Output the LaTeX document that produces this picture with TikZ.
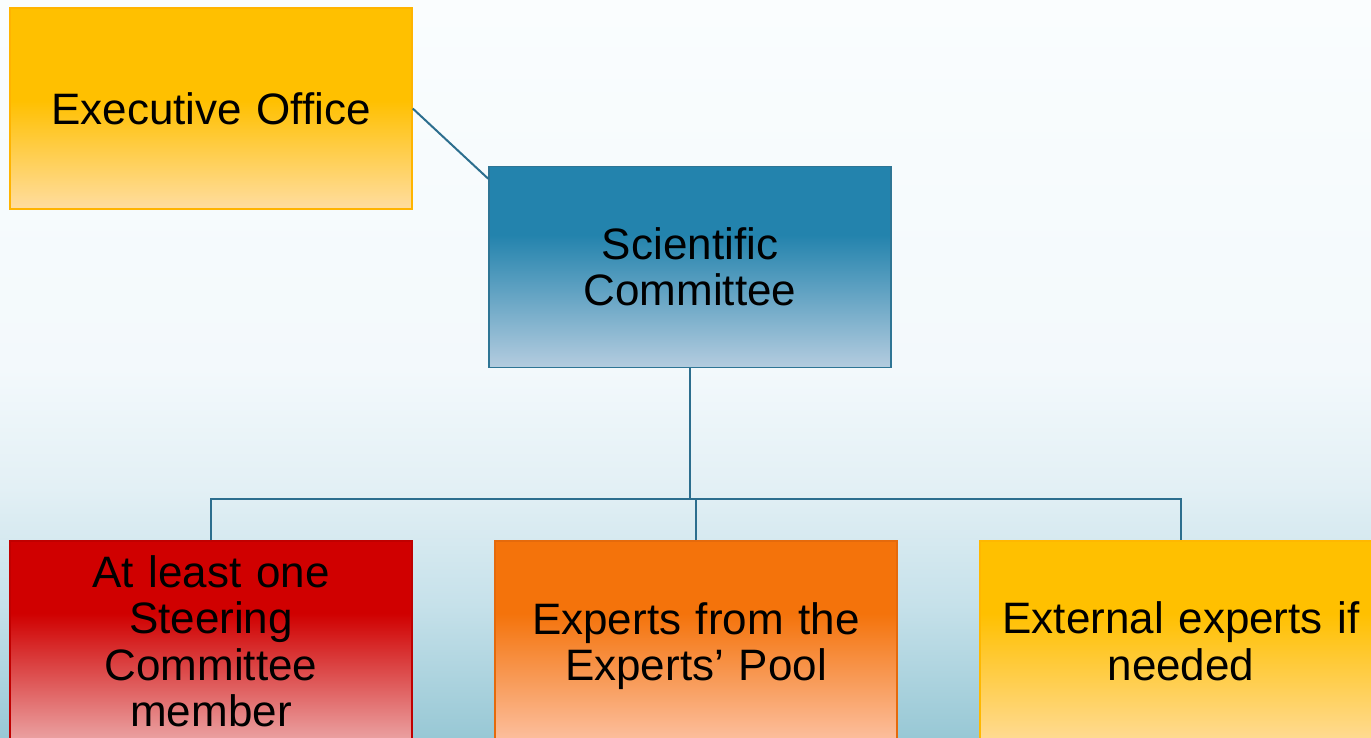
\documentclass[tikz,border=0pt]{standalone}
\usepackage{fontspec}
\setmainfont{Liberation Sans}
\definecolor{bgA}{HTML}{FAFDFE}
\definecolor{bgB}{HTML}{F3F9FC}
\definecolor{bgC}{HTML}{E3F0F5}
\definecolor{bgD}{HTML}{C6E1EA}
\definecolor{bgE}{HTML}{98C8D5}
\definecolor{exTop}{HTML}{FFC000}
\definecolor{exBot}{HTML}{FFDDA0}
\definecolor{exLine}{HTML}{FFB400}
\definecolor{scTop}{HTML}{2383AD}
\definecolor{scBot}{HTML}{B4CCDF}
\definecolor{scLine}{HTML}{2E7595}
\definecolor{redTop}{HTML}{D00000}
\definecolor{redBot}{HTML}{EBA5A5}
\definecolor{redLine}{HTML}{C00000}
\definecolor{orTop}{HTML}{F4730B}
\definecolor{orBot}{HTML}{FCC0A0}
\definecolor{orLine}{HTML}{E56A0C}
\definecolor{yeTop}{HTML}{FFC000}
\definecolor{yeBot}{HTML}{FFDB95}
\definecolor{yeLine}{HTML}{FFB800}
\definecolor{conn}{HTML}{2C6E8E}
\pgfdeclareverticalshading{bgshade}{100bp}{color(0bp)=(bgE); color(25bp)=(bgE); color(34bp)=(bgD); color(42bp)=(bgC); color(50bp)=(bgB); color(75bp)=(bgA); color(100bp)=(bgA)}
\pgfdeclareverticalshading{exshade}{100bp}{color(0bp)=(exBot); color(25bp)=(exBot); color(52bp)=(exTop); color(100bp)=(exTop)}
\pgfdeclareverticalshading{scshade}{100bp}{color(0bp)=(scBot); color(25bp)=(scBot); color(58bp)=(scTop); color(100bp)=(scTop)}
\pgfdeclareverticalshading{redshade}{100bp}{color(0bp)=(redBot); color(25bp)=(redBot); color(57bp)=(redTop); color(100bp)=(redTop)}
\pgfdeclareverticalshading{orshade}{100bp}{color(0bp)=(orBot); color(25bp)=(orBot); color(57bp)=(orTop); color(100bp)=(orTop)}
\pgfdeclareverticalshading{yeshade}{100bp}{color(0bp)=(yeBot); color(25bp)=(yeBot); color(57bp)=(yeTop); color(100bp)=(yeTop)}
\tikzset{
  orgbox/.style={rectangle, minimum width=402pt, minimum height=201pt,
    text width=392pt, align=center, inner sep=0pt, line width=1.5pt,
    font=\fontsize{44}{46.5}\selectfont, text=black},
  link/.style={draw=conn, line width=2pt},
}
\begin{document}
\begin{tikzpicture}[x=1pt,y=-1pt]
\useasboundingbox (0,0) rectangle (1371,737);
\begin{scope}
\clip (0,0) rectangle (1371,737);
\shade[shading=bgshade] (0,0) rectangle (1371,737);
\node[orgbox, draw=exLine, shading=exshade] (exec) at (211,108.5) {Executive Office};
\node[orgbox, draw=scLine, shading=scshade] (sc) at (690,267) {Scientific\\Committee};
\node[orgbox, draw=redLine, shading=redshade] (steer) at (211,641.5) {At least one\\Steering\\Committee\\member};
\node[orgbox, draw=orLine, shading=orshade] (pool) at (696,641.5) {Experts from the\\\raisebox{0pt}[\height][0pt]{Experts’ Pool}};
\node[orgbox, draw=yeLine, shading=yeshade] (ext) at (1181,641.5) {External experts if\\needed};
\coordinate (bus) at (690,499);
\draw[link] (exec.east) -- ([yshift=-13pt]sc.north west);
\draw[link] (sc.south) -- (bus);
\draw[link] (steer.north) |- (bus) -| (ext.north);
\draw[link] (pool.north) -- (pool.north |- bus);
\end{scope}
\end{tikzpicture}
\end{document}
